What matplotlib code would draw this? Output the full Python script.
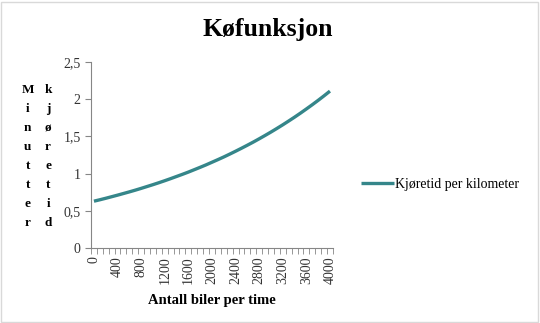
import numpy as np
import matplotlib
matplotlib.use('Agg')
import matplotlib.pyplot as plt
from matplotlib.patches import Rectangle

# data: cars per hour vs minutes per km
biler = list(range(0, 4001, 100))
kjoretid = [0.630, 0.649, 0.669, 0.690, 0.711, 0.733, 0.755, 0.778, 0.802, 0.827,
            0.852, 0.878, 0.905, 0.933, 0.962, 0.991, 1.021, 1.053, 1.085, 1.118,
            1.153, 1.188, 1.224, 1.262, 1.301, 1.341, 1.382, 1.424, 1.468, 1.513,
            1.559, 1.607, 1.656, 1.707, 1.759, 1.813, 1.869, 1.926, 1.985, 2.046,
            2.109]
y_ticks = [0, 0.5, 1, 1.5, 2, 2.5]
y_ticklabels = ['0', '0,5', '1', '1,5', '2', '2,5']

plt.rcParams['font.family'] = ['Liberation Serif', 'DejaVu Serif']

fig = plt.figure(figsize=(5.4, 3.23), dpi=100)
ax = fig.add_axes([0.1685, 0.232, 0.448, 0.576])

x = np.arange(len(biler))
ax.plot(x, kjoretid, color='#35868A', lw=2.4, solid_capstyle='butt',
        label='Kjøretid per kilometer')

ax.set_xlim(-0.5, len(biler) - 0.5)
ax.set_ylim(0, 2.5)
ax.set_xticks(np.arange(-0.5, len(biler)), minor=True)
ax.set_xticks(x[::4])
ax.set_xticklabels([str(b) for b in biler[::4]], rotation=90, fontsize=10,
                   color='#333333')
ax.tick_params(axis='x', which='major', length=0, pad=6)
ax.tick_params(axis='x', which='minor', length=4, color='#868686', direction='out')
ax.set_yticks(y_ticks)
ax.set_yticklabels(y_ticklabels, fontsize=10, color='#333333')
ax.tick_params(axis='y', length=4, color='#868686', direction='out')

for s in ['top', 'right']:
    ax.spines[s].set_visible(False)
for s in ['left', 'bottom']:
    ax.spines[s].set_color('#868686')

ax.set_xlabel('Antall biler per time', fontsize=10.5, fontweight='bold', labelpad=7)
fig.text(0.496, 0.91, 'Køfunksjon', fontsize=18.5, fontweight='bold',
         ha='center', va='center')

# stacked y label in two columns
fig.text(0.051, 0.515, '\n'.join('Minutter'), fontsize=9.5, fontweight='bold',
         ha='center', va='center', linespacing=1.78)
fig.text(0.089, 0.515, '\n'.join('kjøretid'), fontsize=9.5, fontweight='bold',
         ha='center', va='center', linespacing=1.78)

fig.legend(loc='center left', bbox_to_anchor=(0.645, 0.43), frameon=False,
           fontsize=10, handlelength=2.4, handletextpad=0.05)

fig.patches.append(Rectangle((0.002, 0.004), 0.995, 0.99, transform=fig.transFigure,
                             fill=False, edgecolor='#d9d9d9', lw=1))

fig.savefig('out.png', dpi=100)
